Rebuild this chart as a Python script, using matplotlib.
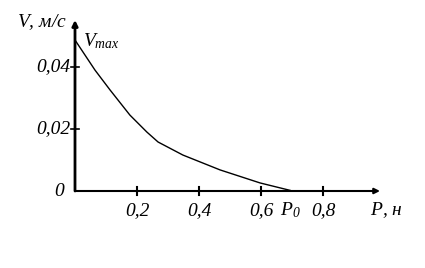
import matplotlib
matplotlib.use("Agg")
import matplotlib.pyplot as plt

plt.rcParams["mathtext.fontset"] = "custom"
plt.rcParams["mathtext.it"] = "Liberation Serif:italic"
plt.rcParams["mathtext.rm"] = "Liberation Serif:italic"

# Data
P = [0.0, 0.0645, 0.113, 0.177, 0.232, 0.268, 0.348, 0.403, 0.468, 0.597, 0.694]
V = [0.0487, 0.039, 0.0326, 0.0245, 0.019, 0.0158, 0.0116, 0.0094, 0.0068, 0.0026, 0.0002]
x_ticks = [0.2, 0.4, 0.6, 0.8]
x_tick_labels = ["0,2", "0,4", "0,6", "0,8"]
y_ticks = [0.02, 0.04]
y_tick_labels = ["0,02", "0,04"]
P0 = 0.694
Vmax = 0.0487

W, H = 425, 268
fig = plt.figure(figsize=(W / 100, H / 100), dpi=100)
x0, y0 = 75, 191
x1, y1 = 380, 20
ax = fig.add_axes([x0 / W, (H - y0) / H, (x1 - x0) / W, (y0 - y1) / H])
xmax = (x1 - x0) / 310
ymax = (y0 - y1) / 3100
ax.set_xlim(0, xmax)
ax.set_ylim(0, ymax)
ax.axis("off")

font = dict(family="Liberation Serif", style="italic", fontsize=14, color="black")

# axes with arrows
ax.annotate("", xy=(xmax, 0), xytext=(0, 0), xycoords="data",
            arrowprops=dict(arrowstyle="-|>", lw=1.5, color="black",
                            mutation_scale=8, shrinkA=0, shrinkB=0),
            annotation_clip=False)
ax.annotate("", xy=(0, ymax), xytext=(0, 0), xycoords="data",
            arrowprops=dict(arrowstyle="-|>", lw=2, color="black",
                            mutation_scale=8, shrinkA=0, shrinkB=0),
            annotation_clip=False)

# curve
ax.plot(P, V, color="black", lw=1.0, clip_on=False)

# ticks
for t, lab in zip(x_ticks, x_tick_labels):
    ax.plot([t, t], [-0.0012, 0.0012], color="black", lw=1.5, clip_on=False)
    ax.text(t, -0.0062, lab, ha="center", va="center", **font)
for t, lab in zip(y_ticks, y_tick_labels):
    ax.plot([-0.012, 0.012], [t, t], color="black", lw=1.2, clip_on=False)
    ax.text(-0.015, t, lab, ha="right", va="center", **font)
ax.text(-0.035, 0.0, "0", ha="right", va="center", **font)

# labels
ax.text(P0, -0.0062, "$P_0$", ha="center", va="center", **font)
ax.text(0.95, -0.0062, "$P$, н", ha="left", va="center", **font)
ax.text(-0.025, 0.0545, "$V$, м/с", ha="right", va="center", **font)
ax.text(0.025, Vmax - 0.0003, "$V_{max}$", ha="left", va="center", **font)

fig.savefig("out.png", dpi=100)
